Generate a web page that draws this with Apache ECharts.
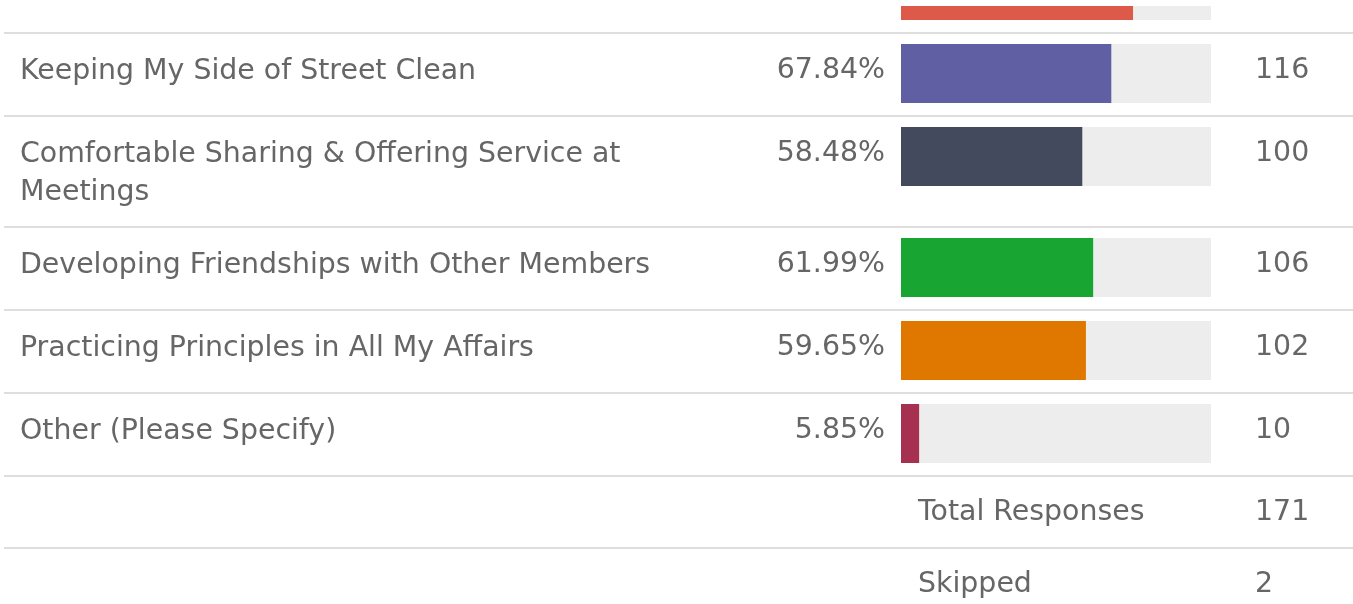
<!DOCTYPE html>
<html>
<head>
<meta charset="utf-8">
<title>Survey responses</title>
<script src="https://cdn.jsdelivr.net/npm/echarts@6/dist/echarts.min.js"></script>
<style>
  html, body { margin: 0; padding: 0; background: #ffffff; overflow: hidden; }
  /* the table continues above the visible area, so the canvas starts 60px up */
  #chart { position: absolute; left: 0; top: -60px; width: 1353px; height: 664px; }
</style>
</head>
<body>
<div id="chart"></div>
<script>
// Answer choices, their share of respondents and raw counts
const answerChoices = [
  '',
  'Keeping My Side of Street Clean',
  'Comfortable Sharing & Offering Service at Meetings',
  'Developing Friendships with Other Members',
  'Practicing Principles in All My Affairs',
  'Other (Please Specify)'
];
const responsePercents = [74.85, 67.84, 58.48, 61.99, 59.65, 5.85];
const responseCounts = [128, 116, 100, 106, 102, 10];
const barColors = ['#dd5a4b', '#615fa3', '#434a5e', '#19a532', '#e07800', '#a6304f'];

// Footer rows of the table
const summaryLabels = ['Total Responses', 'Skipped'];
const summaryValues = [171, 2];

// ---- layout ----
const SHIFT = 60;               // canvas offset above the viewport
const FONT = 'DejaVu Sans';
const FONT_SIZE = 28.4;
const TEXT_COLOR = '#666666';
const RULE_COLOR = '#dedede';
const TRACK_COLOR = '#ededed';
const trackLeft = 901;
const trackWidth = 310;
const barHeight = 59;
const cellPad = 12;
const rowHeights = [83, 83, 111, 83, 83, 83];
const summaryHeight = 72;
const firstRule = -51 + SHIFT;

const grids = [], xAxes = [], yAxes = [], series = [], rules = [];
let y = firstRule;

answerChoices.forEach((name, i) => {
  rules.push(y);
  const barTop = y + cellPad;
  grids.push({ left: trackLeft, top: barTop, width: trackWidth, height: barHeight });
  xAxes.push({ gridIndex: i, type: 'value', min: 0, max: 100, show: false });
  yAxes.push({
    gridIndex: i,
    type: 'category',
    data: [name],
    axisLine: { show: false },
    axisTick: { show: false },
    splitLine: { show: false },
    axisLabel: {
      align: 'left',
      verticalAlign: 'top',
      margin: trackLeft - 20,
      width: 700,
      overflow: 'break',
      lineHeight: 38,
      padding: [-21, 0, 0, 0],
      fontFamily: FONT,
      fontSize: FONT_SIZE,
      color: TEXT_COLOR
    }
  });
  // full-width track, carrying the response count on its right
  series.push({
    type: 'bar',
    xAxisIndex: i,
    yAxisIndex: i,
    data: [100],
    barWidth: barHeight,
    barGap: '-100%',
    silent: true,
    itemStyle: { color: TRACK_COLOR },
    label: {
      show: true,
      position: 'right',
      distance: 44,
      offset: [0, -2.5],
      formatter: () => String(responseCounts[i]),
      fontFamily: FONT,
      fontSize: FONT_SIZE,
      color: TEXT_COLOR
    }
  });
  // share of respondents, with the percentage on its left
  series.push({
    type: 'bar',
    xAxisIndex: i,
    yAxisIndex: i,
    data: [responsePercents[i]],
    barWidth: barHeight,
    barGap: '-100%',
    itemStyle: { color: barColors[i] },
    label: {
      show: true,
      position: 'left',
      distance: 16,
      offset: [0, -2.5],
      formatter: (p) => p.value.toFixed(2) + '%',
      fontFamily: FONT,
      fontSize: FONT_SIZE,
      color: TEXT_COLOR
    }
  });
  y += rowHeights[i];
});

const graphics = [];
summaryLabels.forEach((label, k) => {
  rules.push(y);
  const cy = y + cellPad + 26;
  graphics.push({
    type: 'text', left: 918, top: cy - 19,
    style: { text: label, font: FONT_SIZE + 'px "' + FONT + '"', fill: TEXT_COLOR, lineHeight: 38 }
  });
  graphics.push({
    type: 'text', left: 1255, top: cy - 19,
    style: { text: String(summaryValues[k]), font: FONT_SIZE + 'px "' + FONT + '"', fill: TEXT_COLOR, lineHeight: 38 }
  });
  y += summaryHeight;
});

rules.forEach((ry) => {
  graphics.push({
    type: 'rect', silent: true, z: 0,
    shape: { x: 4, y: ry, width: 1353 - 4, height: 2 },
    style: { fill: RULE_COLOR }
  });
});

// white page band along the top edge of the viewport
graphics.push({
  type: 'rect', silent: true, z: 100,
  shape: { x: 0, y: SHIFT, width: 1353, height: 6 },
  style: { fill: '#ffffff' }
});

const chart = echarts.init(document.getElementById('chart'), null, { renderer: 'canvas' });
chart.setOption({
  backgroundColor: '#ffffff',
  animation: false,
  grid: grids,
  xAxis: xAxes,
  yAxis: yAxes,
  series: series,
  graphic: graphics
});
</script>
</body>
</html>
